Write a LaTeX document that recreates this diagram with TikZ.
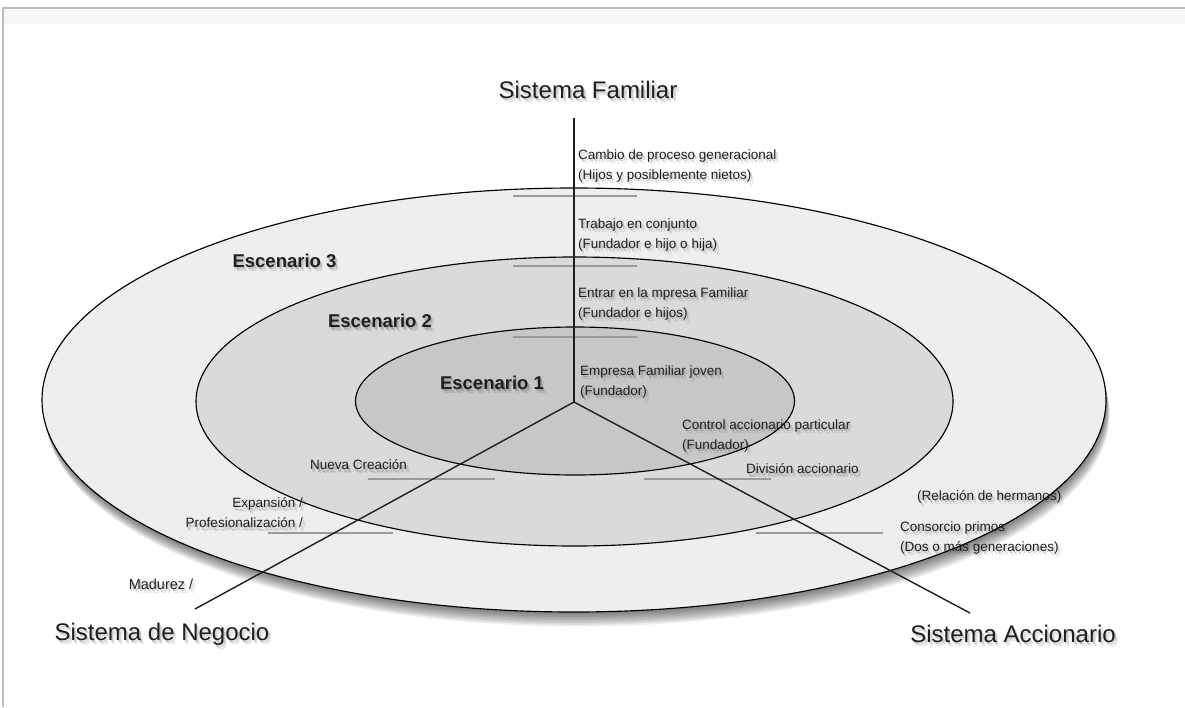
\documentclass[tikz,border=0pt]{standalone}
\usepackage{fontspec}
\setmainfont{Liberation Sans}
\usetikzlibrary{calc}
\definecolor{ringout}{HTML}{EEEEEE}
\definecolor{ringmid}{HTML}{DADADA}
\definecolor{ringin}{HTML}{C7C7C7}
\definecolor{barcol}{HTML}{9A9A9A}
\definecolor{framecol}{HTML}{BDBDBD}
\definecolor{inkcol}{HTML}{1E1E1E}

% label with a soft drop shadow: name, position, options, text
\newcommand\shlabel[4]{%
  \node[txtshade,text opacity=0.10,#3] at ($(#2)+(3,4)$) {#4};
  \node[txtshade,text opacity=0.16,#3] at ($(#2)+(1.5,2.2)$) {#4};
  \node[#3] (#1) at (#2) {#4};}

\begin{document}
\begin{tikzpicture}[x=1pt,y=-1pt,
  every node/.style={inner sep=0pt,text=inkcol},
  txtshade/.style={text=black},
  title/.style={font=\fontsize{24}{28}\selectfont},
  small/.style={font=\fontsize{13.5}{20}\selectfont,align=left},
  stage/.style={font=\fontsize{18.5}{20}\selectfont\bfseries},
  ring/.style={draw=black,line width=1.15pt},
  bar/.style={draw=barcol,line width=2.6pt},
  axis/.style={draw=inkcol,line width=1.4pt}]
\useasboundingbox (0,0) rectangle (1185,707);

% page frame
\fill[black!3] (3,9) rectangle (1185,24);
\draw[framecol,line width=1.2pt] (1185,8) -- (3,8) -- (3,707);

% soft shadow under the outer ring
\foreach \i in {1,...,9}
  \fill[black,opacity=0.07] (574+0.4*\i,400+1.6*\i) ellipse [x radius=532, y radius=212];

% the three stages
\draw[ring,fill=ringout] (574,400) ellipse [x radius=532, y radius=212];
\draw[ring,fill=ringmid] (574.5,401.5) ellipse [x radius=378.5, y radius=144.5];
\draw[ring,fill=ringin] (575,401) ellipse [x radius=219.5, y radius=74];

% stage dividers on each axis
\draw[bar] (513,196) -- (637,196);
\draw[bar] (513,266) -- (637,266);
\draw[bar] (513,337) -- (637,337);
\draw[bar] (368,479) -- (495,479);
\draw[bar] (644,479) -- (771,479);
\draw[bar] (268,533) -- (393,533);
\draw[bar] (756,533) -- (883,533);

% system titles
\shlabel{famtitle}{588,90}{title}{Sistema Familiar}
\shlabel{negtitle}{162,634}{title}{Sistema de Negocio}
\shlabel{acctitle}{1013,634}{title}{Sistema Accionario}

% stage names
\shlabel{esc3}{284.5,261}{stage}{Escenario 3}
\shlabel{esc2}{380,321}{stage}{Escenario 2}
\shlabel{esc1}{492,383}{stage}{Escenario 1}

% family axis
\shlabel{fam3}{578,166}{small,anchor=west}{Cambio de proceso generacional\\(Hijos y posiblemente nietos)}
\shlabel{fam2b}{578,235}{small,anchor=west}{Trabajo en conjunto\\(Fundador e hijo o hija)}
\shlabel{fam2}{578,304}{small,anchor=west}{Entrar en la mpresa Familiar\\(Fundador e hijos)}
\shlabel{fam1}{580,382}{small,anchor=west}{Empresa Familiar joven\\(Fundador)}

% ownership axis
\shlabel{acc1}{682,436}{small,anchor=west}{Control accionario particular\\(Fundador)}
\shlabel{acc2}{746,469}{small,anchor=west}{División accionario}
\shlabel{acc2b}{917,497}{small,anchor=west}{(Relación de hermanos)}
\shlabel{acc3}{900,538}{small,anchor=west}{Consorcio primos\\(Dos o más generaciones)}

% business axis
\shlabel{neg1}{407,465}{small,anchor=east}{Nueva Creación}
\shlabel{neg2}{303,513}{small,anchor=east,align=right}{Expansión /\\Profesionalización /}
\shlabel{neg3}{161,584}{small,font=\fontsize{14.5}{20}\selectfont}{Madurez /}

% axes
\coordinate (core) at (574,402);
\coordinate (famend) at (574,118);
\coordinate (negend) at (195,609);
\coordinate (accend) at (970,613);
\draw[axis] (core) -- (famend);
\draw[axis] (core) -- (negend);
\draw[axis] (core) -- (accend);
\end{tikzpicture}
\end{document}
